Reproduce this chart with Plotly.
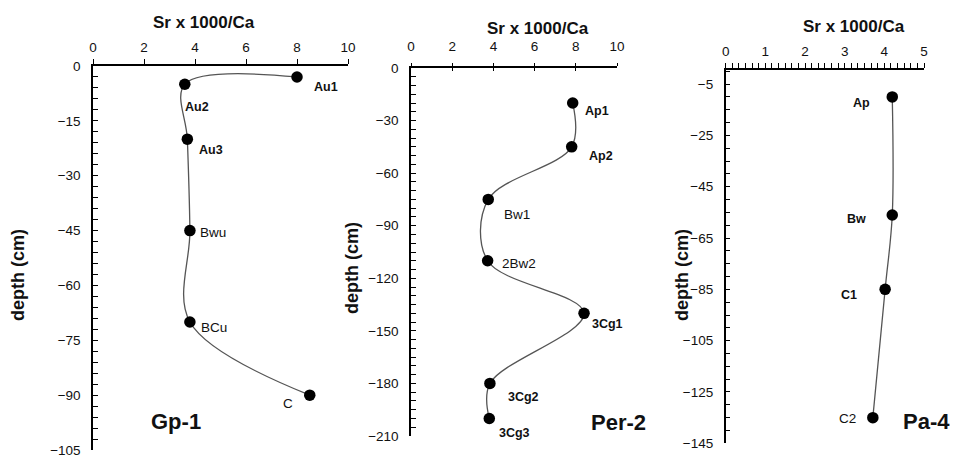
import plotly.graph_objects as go

# ---- data ----
gp_labels = ["Au1", "Au2", "Au3", "Bwu", "BCu", "C"]
gp_sr = [8.0, 3.6, 3.7, 3.8, 3.8, 8.5]
gp_depth = [-3, -5, -20, -45, -70, -90]

per_labels = ["Ap1", "Ap2", "Bw1", "2Bw2", "3Cg1", "3Cg2", "3Cg3"]
per_sr = [7.85, 7.8, 3.75, 3.72, 8.4, 3.83, 3.8]
per_depth = [-20, -45, -75, -110, -140, -180, -200]

pa_labels = ["Ap", "Bw", "C1", "C2"]
pa_sr = [4.2, 4.2, 4.02, 3.71]
pa_depth = [-10, -56, -85, -135]

profile_names = ["Gp-1", "Per-2", "Pa-4"]
x_title = "Sr x 1000/Ca"
y_title = "depth (cm)"

# ---- styles (label placement: xanchor, xshift, yshift, bold) ----
gp_style = [("left", 15, -10, True), ("left", -2, -23, True), ("left", 10, -11, True),
            ("left", 8, -2, False), ("left", 9, -5, False), ("right", -15, -8, False)]
per_style = [("left", 10, -8, True), ("left", 15, -9, True), ("left", 14, -15, False),
             ("left", 12, -3, False), ("left", 6, -11, True), ("left", 16, -14, True),
             ("left", 8, -15, True)]
pa_style = [("right", -20, -6, True), ("right", -24, -4, True), ("right", -26, -6, True),
            ("right", -15, -1, False)]

# page body has an 8px margin: the figure starts at (8, 8) in the window
OFF = 8
W, H = 950, 451
FONT = "Liberation Sans, Arial, sans-serif"

def fx(px):
    return (px - OFF) / W

def fy(py):
    return 1 - (py - OFF) / H

fig = go.Figure()

panels = [
    (gp_sr, gp_depth, gp_labels, gp_style, "x", "y"),
    (per_sr, per_depth, per_labels, per_style, "x2", "y2"),
    (pa_sr, pa_depth, pa_labels, pa_style, "x3", "y3"),
]

for sr, dep, labs, sty, xa, ya in panels:
    fig.add_trace(go.Scatter(
        x=sr, y=dep, mode="lines+markers", xaxis=xa, yaxis=ya,
        line=dict(shape="spline", smoothing=1.0, color="#555555", width=1.3),
        marker=dict(size=11.5, color="black"),
        showlegend=False, hoverinfo="skip", cliponaxis=False))
    for xv, yv, t, (anc, xs, ys, bold) in zip(sr, dep, labs, sty):
        fig.add_annotation(
            x=xv, y=yv, xref=xa, yref=ya, text=f"<b>{t}</b>" if bold else t,
            showarrow=False, xanchor=anc, yanchor="middle", xshift=xs, yshift=ys,
            font=dict(family=FONT, size=12.5 if bold else 13.5, color="#111"))

axis_common = dict(showline=True, linecolor="black", linewidth=1.5, showgrid=False,
                   zeroline=False, automargin=False, ticklabeloverflow="allow",
                   tickfont=dict(family=FONT, size=13.5, color="#111"),
                   tickcolor="black", tickwidth=1.3)

fig.update_layout(
    # Panel 1
    xaxis=dict(domain=[fx(93), fx(348)], range=[0, 10], side="top", anchor="y",
               dtick=2, tick0=0, ticks="outside", ticklen=5, ticklabelstandoff=2,
               **axis_common),
    yaxis=dict(domain=[fy(450), fy(66)], range=[-105, 0], anchor="x",
               dtick=15, tick0=0, ticks="inside", ticklen=5, ticklabelstandoff=8,
               minor=dict(dtick=3, tick0=0, ticks="inside", ticklen=5,
                          tickcolor="black", tickwidth=1.3),
               **axis_common),
    # Panel 2
    xaxis2=dict(domain=[fx(411), fx(617)], range=[0, 10], side="top", anchor="y2",
                dtick=2, tick0=0, ticks="outside", ticklen=3, ticklabelstandoff=7,
                **axis_common),
    yaxis2=dict(domain=[fy(436), fy(68)], range=[-210, 0], anchor="x2",
                dtick=30, tick0=0, ticks="inside", ticklen=5, ticklabelstandoff=8,
                minor=dict(dtick=5, tick0=0, ticks="inside", ticklen=5,
                           tickcolor="black", tickwidth=1.3),
                **axis_common),
    xaxis4=dict(domain=[fx(411), fx(617)], range=[0, 10], side="top", anchor="y2",
                overlaying="x2", dtick=2, tick0=0, ticks="inside", ticklen=3,
                showticklabels=False, showline=False, showgrid=False, zeroline=False,
                automargin=False, tickcolor="black", tickwidth=1.3),
    # Panel 3
    xaxis3=dict(domain=[fx(725.7), fx(924)], range=[0, 5], side="top", anchor="y3",
                dtick=1, tick0=0, ticks="outside", ticklen=5, ticklabelstandoff=2,
                minor=dict(dtick=1 / 6, tick0=0, ticks="outside", ticklen=5,
                           tickcolor="black", tickwidth=1.3),
                **axis_common),
    yaxis3=dict(domain=[fy(443.3), fy(70)], range=[-145, 0.5], anchor="x3",
                dtick=20, tick0=-5, ticks="inside", ticklen=5, ticklabelstandoff=8,
                minor=dict(dtick=5, tick0=-5, ticks="inside", ticklen=5,
                           tickcolor="black", tickwidth=1.3),
                **axis_common),
)

# dummy trace so the overlay axis renders
fig.add_trace(go.Scatter(x=[None], y=[None], xaxis="x4", yaxis="y2",
                         showlegend=False, hoverinfo="skip"))

# titles
for cx, cy in [(204, 23), (537.5, 28.5), (854, 27)]:
    fig.add_annotation(x=fx(cx), y=fy(cy), xref="paper", yref="paper",
                       text=f"<b>{x_title}</b>", showarrow=False,
                       xanchor="center", yanchor="middle",
                       font=dict(family=FONT, size=17, color="#111"))
for cx, cy in [(18, 275), (352, 268), (682, 275)]:
    fig.add_annotation(x=fx(cx), y=fy(cy), xref="paper", yref="paper",
                       text=f"<b>{y_title}</b>", showarrow=False, textangle=-90,
                       xanchor="center", yanchor="middle",
                       font=dict(family=FONT, size=18, color="#111"))
for (cx, cy), name in zip([(176, 421), (618, 422), (926, 421)], profile_names):
    fig.add_annotation(x=fx(cx), y=fy(cy), xref="paper", yref="paper",
                       text=f"<b>{name}</b>", showarrow=False,
                       xanchor="center", yanchor="middle",
                       font=dict(family=FONT, size=22, color="#111"))

fig.update_layout(width=W, height=H, margin=dict(l=0, r=0, t=0, b=0, pad=0),
                  paper_bgcolor="white", plot_bgcolor="white")

fig.write_html("out.html")
